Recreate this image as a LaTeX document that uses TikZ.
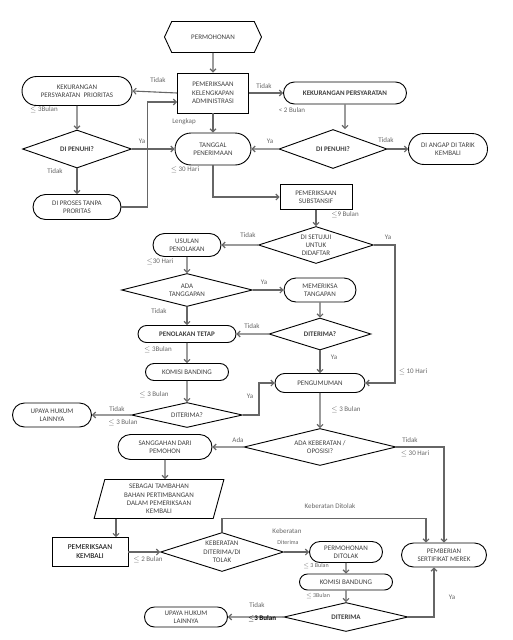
\documentclass[tikz,border=0pt]{standalone}
\usepackage{fontspec}
\setmainfont{Carlito}
\usetikzlibrary{calc,positioning,shapes.geometric,shapes.misc,shapes.symbols,arrows.meta}

\begin{document}
\begin{tikzpicture}[x=1pt,y=-1pt,
  base/.style={draw=black,line width=0.9pt,text=black!75,align=center,inner sep=1pt,font=\fontsize{7}{8.4}\selectfont},
  rect/.style={base,rectangle},
  pill/.style={base,rounded rectangle},
  dia/.style={base,diamond,inner sep=0pt},
  lbl/.style={text=black!60,inner sep=0pt,font=\fontsize{7}{8}\selectfont},
  arr/.style={draw=black!60,line width=1.1pt,-{Straight Barb[length=3pt,width=6pt]}}]
\useasboundingbox (0,0) rectangle (512,640);
\node[base,signal,signal to=west and east,signal pointer angle=130,minimum width=97pt,minimum height=31pt](perm)at(213,37){PERMOHONAN};
\node[rect,minimum width=71pt,minimum height=40pt](adm)at(213,93){PEMERIKSAAN\\KELENGKAPAN\\ADMINISTRASI};
\node[pill,minimum width=112pt,minimum height=29pt](kprio)at(77,91){KEKURANGAN\\PERSYARATAN\ \ PRIORITAS};
\node[pill,minimum width=125pt,minimum height=22pt](kpers)at(345,93){\textbf{KEKURANGAN PERSYARATAN}};
\node[dia,aspect=2.9,minimum width=109pt,minimum height=38pt](dp1)at(77,149){\textbf{DI PENUHI?}};
\node[pill,minimum width=78pt,minimum height=32pt](tgl)at(213,149){TANGGAL\\PENERIMAAN};
\node[dia,aspect=2.8,minimum width=108pt,minimum height=39pt](dp2)at(333,149){\textbf{DI PENUHI?}};
\node[pill,minimum width=81pt,minimum height=31pt](tarik)at(448,149){DI ANGAP DI TARIK\\KEMBALI};
\node[pill,minimum width=90pt,minimum height=25pt](proses)at(77,207){DI PROSES TANPA\\PRORITAS};
\node[rect,minimum width=72pt,minimum height=25pt](subst)at(316,197){PEMERIKSAAN\\SUBSTANSIF};
\node[dia,aspect=3.1,minimum width=115pt,minimum height=37pt,font=\fontsize{7}{8}\selectfont](setuju)at(316,245){DI SETUJUI\\UNTUK\\DIDAFTAR};
\node[pill,minimum width=70pt,minimum height=23pt](usulan)at(187,245){USULAN\\PENOLAKAN};
\node[dia,aspect=4,minimum width=131pt,minimum height=33pt](ada)at(187,290){ADA\\TANGGAPAN};
\node[pill,minimum width=74pt,minimum height=24pt](periksa)at(320,290){MEMERIKSA\\TANGAPAN};
\node[dia,aspect=3.2,minimum width=102pt,minimum height=32pt](dit1)at(320,334){\textbf{DITERIMA?}};
\node[pill,minimum width=100pt,minimum height=17pt](tetap)at(187,334){\textbf{PENOLAKAN TETAP}};
\node[pill,minimum width=85pt,minimum height=17pt](komisi1)at(187,372){KOMISI BANDING};
\node[dia,aspect=4.4,minimum width=111pt,minimum height=25pt](dit2)at(187,415){DITERIMA?};
\node[pill,minimum width=81pt,minimum height=24pt](upaya1)at(52,415){UPAYA HUKUM\\LAINNYA};
\node[pill,minimum width=92pt,minimum height=19pt](umum)at(320,383){PENGUMUMAN};
\node[dia,aspect=4.1,minimum width=152pt,minimum height=37pt](oposisi)at(320,447){ADA KEBERATAN /\\OPOSISI?};
\node[pill,minimum width=96pt,minimum height=25pt](sanggah)at(165,447){SANGGAHAN DARI\\PEMOHON};
\node[base,trapezium,trapezium left angle=77,trapezium right angle=103,trapezium stretches=true,minimum width=130pt,minimum height=39pt,inner sep=0pt](bahan)at(159,499){SEBAGAI TAMBAHAN\\BAHAN PERTIMBANGAN\\DALAM PEMERIKSAAN\\KEMBALI};
\node[rect,minimum width=76pt,minimum height=29pt,text=black,font=\fontsize{7.5}{9}\selectfont](kembali)at(90,552){PEMERIKSAAN\\KEMBALI};
\node[dia,aspect=3.2,minimum width=123pt,minimum height=39pt](keb)at(222,552){KEBERATAN\\DITERIMA/DI\\TOLAK};
\node[pill,minimum width=75pt,minimum height=21pt](ditolak)at(346,552){PERMOHONAN\\DITOLAK};
\node[pill,minimum width=87pt,minimum height=24pt](sertif)at(444,555){PEMBERIAN\\SERTIFIKAT MEREK};
\node[pill,minimum width=95pt,minimum height=16pt](komisi2)at(346,582){KOMISI BANDUNG};
\node[dia,aspect=4.3,minimum width=124pt,minimum height=29pt](dit3)at(346,617){\textbf{DITERIMA}};
\node[pill,minimum width=85pt,minimum height=20pt](upaya2)at(186,617){UPAYA HUKUM\\LAINNYA};
\coordinate(kin)at([xshift=26pt]kembali.north);
\draw[arr](perm)--(adm);
\draw[arr](adm.west)--(kprio.east);
\draw[arr](adm.east)--(kpers.west);
\draw[arr](kprio)--(dp1);
\draw[arr](dp1)--(tgl);
\draw[arr](dp1)--(proses);
\draw[arr](proses.east)--++(26,0)|-([yshift=-9pt]adm.west);
\draw[arr](adm)--(tgl);
\draw[arr](kpers)--(kpers|-dp2.north);
\draw[arr](dp2)--(tgl);
\draw[arr](dp2)--(tarik);
\draw[arr](tgl.south)|-(subst.west);
\draw[arr](subst)--(setuju);
\draw[arr](setuju)--(usulan);
\draw[arr](setuju.east)--++(21,0)|-(umum.east);
\draw[arr](usulan)--(ada);
\draw[arr](ada)--(periksa);
\draw[arr](ada)--(tetap);
\draw[arr](periksa)--(dit1);
\draw[arr](dit1)--(tetap);
\draw[arr](dit1)--(umum);
\draw[arr](tetap)--(komisi1);
\draw[arr](komisi1)--(dit2);
\draw[arr](dit2)--(upaya1);
\draw[arr](dit2.east)--++(16,0)|-(umum.west);
\draw[arr](umum)--(oposisi);
\draw[arr](oposisi)--(sanggah);
\draw[arr](oposisi.east)-|(sertif.north);
\draw[arr](sanggah)--(sanggah|-bahan.north);
\draw[arr](kin|-bahan.south)--(kin);
\draw[arr](kembali)--(keb);
\draw[arr](keb.north)--++(0,-14)-|([xshift=-18pt]sertif.north);
\draw[arr](keb)--(ditolak);
\draw[arr](ditolak)--(komisi2);
\draw[arr](komisi2)--(dit3);
\draw[arr](dit3)--(upaya2);
\draw[arr](dit3.east)-|([xshift=-10pt]sertif.south);
\node[lbl](l1)at(158,80){Tidak};
\node[lbl](l2)at(264,86){Tidak};
\node[lbl](l3)at(44,110){$\leq$ 3Bulan};
\node[lbl](l4)at(292,110){< 2 Bulan};
\node[lbl](l5)at(184,122){Lengkap};
\node[lbl](l6)at(142,141){Ya};
\node[lbl](l7)at(270,141){Ya};
\node[lbl](l8)at(386,140){Tidak};
\node[lbl](l9)at(55,171){Tidak};
\node[lbl](l10)at(185,170){$\leq$ 30 Hari};
\node[lbl](l11)at(345,215){$\leq$9 Bulan};
\node[lbl](l12)at(248,235){Tidak};
\node[lbl](l13)at(388,237){Ya};
\node[lbl](l14)at(160,262){$\leq$30 Hari};
\node[lbl](l15)at(264,282){Ya};
\node[lbl](l16)at(159,311){Tidak};
\node[lbl](l17)at(252,326){Tidak};
\node[lbl](l18)at(334,357){Ya};
\node[lbl](l19)at(158,350){$\leq$ 3Bulan};
\node[lbl](l20)at(154,395){$\leq$ 3 Bulan};
\node[lbl](l21)at(117,409){Tidak};
\node[lbl](l22)at(123,423){$\leq$ 3 Bulan};
\node[lbl](l23)at(250,396){Ya};
\node[lbl](l24)at(413,372){$\leq$ 10 Hari};
\node[lbl](l25)at(346,410){$\leq$ 3 Bulan};
\node[lbl](l26)at(238,440){Ada};
\node[lbl](l27)at(410,440){Tidak};
\node[lbl](l28)at(415,454){$\leq$ 30 Hari};
\node[lbl](l29)at(330,506){Keberatan Ditolak};
\node[lbl](l30)at(148,560){$\leq$ 2 Bulan};
\node[lbl](l31)at(287,531){Keberatan};
\node[lbl,font=\fontsize{6}{7}\selectfont](l32)at(288,542){Diterima};
\node[lbl,font=\fontsize{6}{7}\selectfont](l33)at(316,566){$\leq$ 3 Bulan};
\node[lbl,font=\fontsize{6}{7}\selectfont](l34)at(318,596){$\leq$ 3Bulan};
\node[lbl](l35)at(257,605){Tidak};
\node[lbl,text=black](l36)at(262,619){\textbf{$\leq$3 Bulan}};
\node[lbl](l37)at(452,597){Ya};
\end{tikzpicture}
\end{document}
